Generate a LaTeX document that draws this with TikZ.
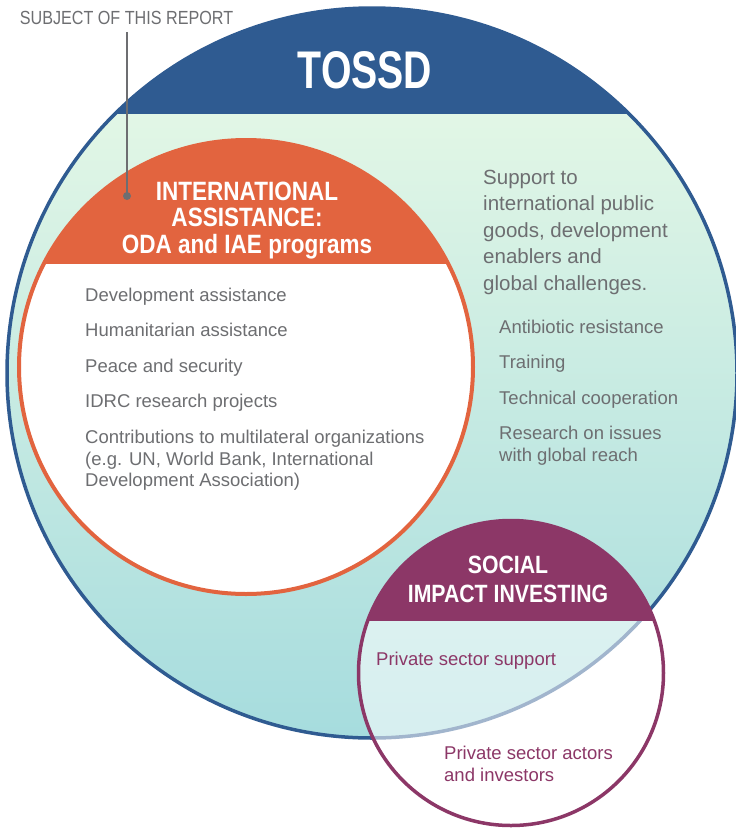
\documentclass[tikz,border=0pt]{standalone}
\usepackage{fontspec}
\setmainfont{Liberation Sans}
\newfontfamily\headfont{Liberation Sans}[FakeStretch=0.85]
\newfontfamily\titlefont{Liberation Sans}[FakeStretch=0.74]
\usepackage{xcolor}
\usepackage{tikz}
\usetikzlibrary{positioning}
\definecolor{tossdblue}{HTML}{2F5B91}
\definecolor{iaorange}{HTML}{E2643F}
\definecolor{sipurple}{HTML}{8C3767}
\definecolor{textgray}{HTML}{6D6E71}
\definecolor{fillTop}{HTML}{ECFBE7}
\definecolor{fillMid}{HTML}{D6F0E2}
\definecolor{fillBot}{HTML}{A6DCDE}
\tikzstyle{item} = [anchor=base west, inner sep=0pt, align=left, text=textgray, font=\fontsize{18.5}{21.5}\selectfont]
\tikzstyle{lead} = [item, font=\fontsize{20.5}{26.5}\selectfont]
\tikzstyle{heading} = [anchor=base, inner sep=0pt, align=center, text=white, font=\headfont\bfseries\fontsize{26.5}{26.5}\selectfont]
\tikzstyle{pointer} = [textgray, line width=1.5pt]

\begin{document}
\begin{tikzpicture}[x=1pt, y=-1pt]
        \useasboundingbox (0,0) rectangle (736,828);

        % Circle centres
        \coordinate (tossd) at (372,373);
        \coordinate (ia) at (246,367);
        \coordinate (si) at (511,673);

        % TOSSD circle with its cap
        \shade[top color=fillTop, middle color=fillMid, bottom color=fillBot] (tossd) circle (365pt);
        \begin{scope}
            \clip (0,0) rectangle (736,113);
            \fill[tossdblue] (tossd) circle (365pt);
        \end{scope}
        \draw[tossdblue, line width=3.5pt] (tossd) circle (365pt);

        % International assistance circle
        \fill[white] (ia) circle (227pt);
        \begin{scope}
            \clip (0,0) rectangle (736,263);
            \fill[iaorange] (ia) circle (227pt);
        \end{scope}
        \draw[iaorange, line width=4pt] (ia) circle (227pt);

        % Social impact investing circle
        \fill[white, fill opacity=0.55] (si) circle (152.5pt);
        \begin{scope}
            \clip (0,0) rectangle (736,620);
            \fill[sipurple] (si) circle (152.5pt);
        \end{scope}
        \draw[sipurple, line width=3.5pt] (si) circle (152.5pt);

        % Titles (multi-line nodes sit on their last line)
        \node[anchor=base, inner sep=0pt, text=white, font=\titlefont\bfseries\fontsize{53}{53}\selectfont] (title) at (365,88) {TOSSD};
        \node[heading] (ia_label) at (247,253) {INTERNATIONAL\\ASSISTANCE:\\ODA and IAE programs};
        \node[heading, font=\headfont\bfseries\fontsize{25}{28.5}\selectfont] (si_label) at (508,602) {SOCIAL\\IMPACT INVESTING};

        % International assistance items
        \node[item] (dev) at (85,301) {Development assistance};
        \node[item] (hum) [below=35.5pt of dev.base west, anchor=base west] {Humanitarian assistance};
        \node[item] (peace) [below=35.5pt of hum.base west, anchor=base west] {Peace and security};
        \node[item] (idrc) [below=35.5pt of peace.base west, anchor=base west] {IDRC research projects};
        \node[item] (multi) [below=79pt of idrc.base west, anchor=base west] {Contributions to multilateral organizations\\(e.g. UN, World Bank, International\\Development Association)};

        % Global public goods
        \node[lead] (gpg) at (483,290) {Support to\\international public\\goods, development\\enablers and\\global challenges.};
        \node[item] (anti) at (499,333) {Antibiotic resistance};
        \node[item] (train) [below=35.5pt of anti.base west, anchor=base west] {Training};
        \node[item] (tech) [below=35.5pt of train.base west, anchor=base west] {Technical cooperation};
        \node[item] (research) [below=57pt of tech.base west, anchor=base west] {Research on issues\\with global reach};

        % Private sector
        \node[item, text=sipurple] (ps_support) at (376,665) {Private sector support};
        \node[item, text=sipurple] (ps_actors) at (444,781) {Private sector actors\\and investors};

        % Pointer to the subject of the report
        \node[anchor=base, inner sep=0pt, text=textgray, font=\headfont\fontsize{19}{19}\selectfont] (subject) at (126.5,24) {SUBJECT OF THIS REPORT};
        \coordinate (mark) at (127,196);
        \draw[pointer, shorten <=8pt] (subject.south -| mark) -- (mark);
        \fill[textgray] (mark) circle (4pt);

    \end{tikzpicture}
\end{document}
